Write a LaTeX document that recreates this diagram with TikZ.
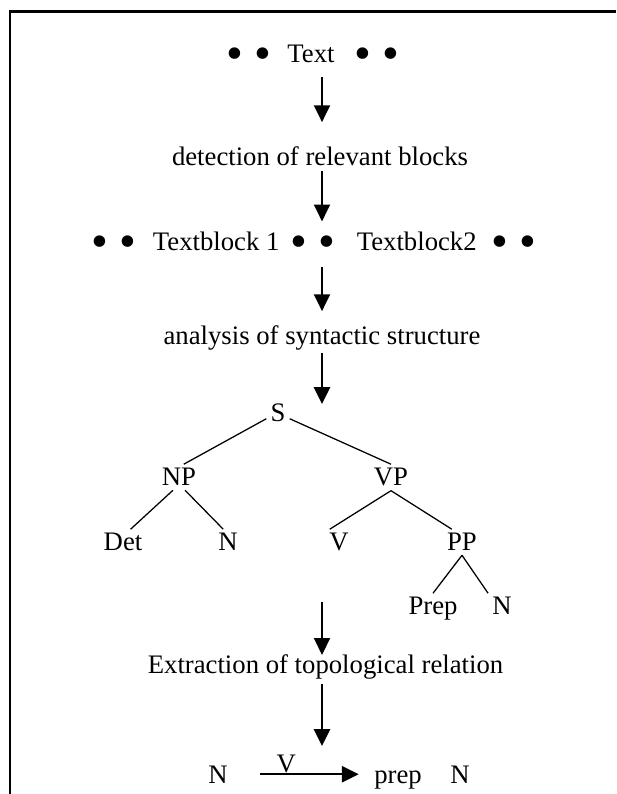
\documentclass[tikz,border=0pt]{standalone}
\usepackage{fontspec}
\setmainfont{Liberation Serif}
\usepackage{tikz}
\usetikzlibrary{arrows.meta}
\newcommand{\bul}{\makebox[0.35em]{\raisebox{-0.24em}{\scalebox{1.8}{\textbullet}}}}

\begin{document}
\begin{tikzpicture}[
    lbl/.style={font=\fontsize{19}{23}\selectfont,inner sep=0pt,anchor=base},
    cat/.style={lbl,inner sep=0.1cm},
    flow/.style={-{Triangle[length=0.42cm,width=0.4cm]},line width=1.4pt},
    branch/.style={line width=0.9pt}]
  \useasboundingbox (0,0) rectangle (15.4,19.85);
  \draw[line width=1.5pt] (0.25,0) -- (0.25,19.5625) -- (15.4,19.5625);
  \coordinate (ax) at (8.05,0);
  % steps
  \node[lbl] (txt) at (7.8125,18.275) {\bul\hspace{0.7em}\bul\hspace{0.76em}Text\hspace{0.87em}\bul\hspace{0.7em}\bul};
  \node[lbl] (detect) at (8.0,15.7) {detection of relevant blocks};
  \node[lbl] (blocks) at (7.85,13.575) {\bul\hspace{0.7em}\bul\hspace{0.76em}Textblock 1\hspace{0.55em}\bul\hspace{0.7em}\bul\hspace{0.95em}Textblock2\hspace{0.7em}\bul\hspace{0.7em}\bul};
  \node[lbl] (analysis) at (8.05,11.225) {analysis of syntactic structure};
  % parse tree
  \node[cat] (s) at (6.95,9.3) {S};
  \node[cat] (np) at (4.475,7.7) {NP};
  \node[cat] (vp) at (9.775,7.7) {VP};
  \node[cat] (det) at (3.075,6.075) {Det};
  \node[cat] (n1) at (5.7,6.075) {N};
  \node[cat] (v) at (8.475,6.075) {V};
  \node[cat] (pp) at (11.55,6.075) {PP};
  \node[cat] (prep) at (10.825,4.475) {Prep};
  \node[cat] (n2) at (12.55,4.475) {N};
  \draw[branch] (s.205) -- (np.70);
  \draw[branch] (s.-25) -- (vp.north);
  \draw[branch] (np.-115) -- (det.60);
  \draw[branch] (np.-65) -- (n1.110);
  \draw[branch] (vp.south) -- (v.125);
  \draw[branch] (vp.south) -- (pp.128);
  \draw[branch] (pp.south) -- (prep.north);
  \draw[branch] (pp.south) -- (n2.north west);
  \coordinate (treeend) at (8.05,4.8);
  \node[lbl] (extract) at (8.1375,3.0) {Extraction of topological relation};
  % result
  \node[lbl] (na) at (5.45,0.275) {N};
  \node[lbl] (prepb) at (9.95,0.275) {prep};
  \node[lbl] (nb) at (11.5,0.275) {N};
  \draw[flow,shorten <=0.81cm,shorten >=0.38cm] (na.east) -- (na.east -| prepb.west)
    node[lbl,pos=0.4,above,inner sep=0pt] {V};
  % arrows
  \draw[flow,shorten <=0.175cm,shorten >=0.62cm] (txt.south -| ax) -- (detect.north -| ax);
  \draw[flow,shorten <=0.1cm,shorten >=0.27cm] (detect.south -| ax) -- (blocks.north -| ax);
  \draw[flow,shorten <=0.225cm,shorten >=0.37cm] (blocks.south -| ax) -- (analysis.north -| ax);
  \draw[flow,shorten <=0.055cm,shorten >=-0.1cm] (analysis.south -| ax) -- (s.north -| ax);
  \draw[flow] (treeend) -- (extract.north -| ax);
  \draw[flow,shorten <=0.105cm,shorten >=0.48cm] (extract.south -| ax) -- (na.north -| ax);
\end{tikzpicture}
\end{document}
